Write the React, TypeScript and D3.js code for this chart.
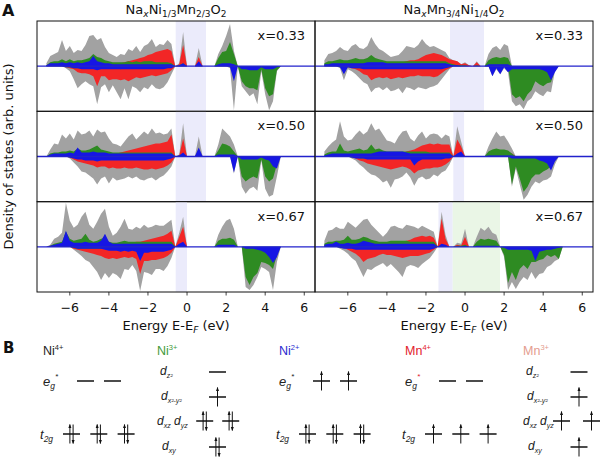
import React from 'react';
import * as d3 from 'd3';

// ---------- DOS data: energy grid -7.2 eV .. 5.0 eV, step 0.2 eV (62 points) ----------
// values in arb. units (panel half-height = 45)
const a33_grayUp = [3, 10,12,14,26,15, 20,13,16,15,21, 30,31,26,28,19, 13,11,9,12,11, 17,15,20,14,20, 22,27,19,22,21, 26,22,0,3,34, 0,0,0,18,0, 0,0,0,12,20, 30,42,15,0,0, 0,0,0,0,0, 0,0,0,0,0, 0];
const a33_redUp = [0, 1,1,1,2,1, 2,1,2,2,2, 2,3,2,2,1, 2,2,3,3,4, 5,6,7,8,9, 11,12,14,15,16, 17,15,0,2,21, 0,0,0,9,0, 0,0,0,1,2, 3,14,2,0,0, 0,0,0,0,0, 0,0,0,0,0, 0];
const a33_greenUp = [1, 4,5,5,7,5, 7,5,6,6,7, 8,12,9,8,6, 5,4,4,4,4, 5,4,5,4,5, 5,5,4,4,4, 4,3,0,1,3, 0,0,0,3,0, 0,0,0,8,14, 15,24,12,0,0, 0,0,0,0,0, 0,0,0,0,0, 0];
const a33_blueUp = [1, 3,3,3,4,3, 4,3,4,3,4, 5,10,5,4,3, 3,2,2,2,2, 2,2,2,2,2, 2,2,2,2,2, 2,2,0,1,3, 0,0,0,5,0, 0,0,0,2,3, 3,3,2,0,0, 0,0,0,0,0, 0,0,0,0,0, 0];
const a33_grayDn = [0, 0,0,0,0,2, 5,13,22,18,15, 18,20,38,21,18, 26,19,26,33,22, 33,20,22,26,21, 23,18,22,23,21, 16,8,0,0,0, 0,0,0,0,0, 0,0,0,0,0, 0,2,44,0,20, 25,30,27,38,5, 28,44,35,5,0, 0];
const a33_redDn = [0, 0,0,0,0,1, 2,3,6,7,7, 8,10,20,10,10, 14,13,13,14,13, 15,13,11,12,11, 10,9,10,9,8, 7,4,0,0,0, 0,0,0,0,0, 0,0,0,0,0, 0,0,0,0,0, 0,0,0,0,0, 0,0,0,0,0, 0];
const a33_greenDn = [0, 0,0,0,0,1, 1,2,2,2,2, 2,2,3,2,2, 2,2,2,3,2, 2,2,2,2,2, 2,2,2,2,2, 2,1,0,0,0, 0,0,0,0,0, 0,0,0,0,0, 0,0,5,0,15, 20,22,22,24,3, 22,30,28,4,0, 0];
const a33_blueDn = [0, 0,0,0,0,1, 1,2,2,3,3, 3,3,4,3,3, 3,3,3,3,3, 3,3,3,3,3, 3,3,3,3,3, 2,2,0,0,0, 0,0,0,0,0, 0,0,0,0,0, 0,1,15,0,3, 3,4,4,4,1, 3,3,3,1,0, 0];

const a50_grayUp = [0, 7,13,12,22,18, 23,17,26,22,23, 26,20,27,24,25, 18,13,12,10,15, 20,23,17,21,25, 22,28,23,24,22, 23,28,0,2,33, 0,0,0,20,0, 0,0,0,12,28, 24,20,12,0,0, 0,0,0,0,0, 0,0,0,0,0, 0];
const a50_redUp = [0, 1,1,1,1,1, 1,1,1,1,1, 1,1,1,1,2, 2,3,3,4,5, 6,7,8,9,10, 11,12,13,13,14, 15,22,0,1,18, 0,0,0,6,0, 0,0,0,1,2, 2,2,1,0,0, 0,0,0,0,0, 0,0,0,0,0, 0];
const a50_greenUp = [0, 3,4,4,5,5, 6,5,8,6,6, 7,9,11,7,6, 5,4,4,4,4, 4,4,4,4,4, 4,4,4,4,4, 4,4,0,1,3, 0,0,0,4,0, 0,0,0,6,13, 12,10,5,0,0, 0,0,0,0,0, 0,0,0,0,0, 0];
const a50_blueUp = [0, 2,3,3,3,3, 4,3,9,4,4, 4,5,4,4,4, 3,3,3,3,3, 3,3,3,3,3, 3,3,3,3,3, 3,3,0,1,4, 0,0,0,9,0, 0,0,0,2,2, 2,2,2,0,0, 0,0,0,0,0, 0,0,0,0,0, 0];
const a50_grayDn = [0, 0,0,0,0,0, 2,6,10,15,16, 19,22,28,22,20, 27,21,24,23,22, 20,22,20,23,24, 22,21,24,21,19, 15,10,0,0,0, 0,0,0,0,0, 0,0,0,0,0, 0,0,17,0,30, 37,32,30,34,4, 32,40,38,20,0, 0];
const a50_redDn = [0, 0,0,0,0,0, 1,3,5,6,7, 8,9,11,10,10, 12,11,12,12,11, 12,12,11,12,13, 13,12,13,12,11, 9,6,0,0,0, 0,0,0,0,0, 0,0,0,0,0, 0,0,0,0,0, 0,0,0,0,0, 0,0,0,0,0, 0];
const a50_greenDn = [0, 0,0,0,0,0, 1,1,2,2,2, 2,2,2,2,2, 2,2,2,2,2, 2,2,2,2,2, 2,2,2,2,2, 2,1,0,0,0, 0,0,0,0,0, 0,0,0,0,0, 0,0,3,0,20, 25,22,20,22,3, 20,25,22,8,0, 0];
const a50_blueDn = [0, 0,0,0,0,0, 1,2,3,3,4, 4,4,5,4,4, 4,4,4,4,4, 4,4,4,4,4, 4,4,4,4,4, 3,2,0,0,0, 0,0,0,0,0, 0,0,0,0,0, 0,0,16,0,3, 3,3,3,3,1, 3,4,10,12,0, 0];

const a67_grayUp = [0, 2,8,10,14,44, 26,19,22,30,35, 22,18,25,33,38, 20,11,14,20,28, 18,17,20,18,22, 19,20,22,21,21, 24,27,0,14,30, 0,0,0,0,0, 0,0,0,12,20, 26,28,18,0,0, 0,0,0,0,0, 0,0,0,0,0, 0];
const a67_redUp = [0, 1,1,1,1,2, 1,1,1,2,2, 1,1,2,2,2, 2,2,2,3,3, 4,4,5,5,6, 7,8,9,10,11, 13,16,0,10,20, 0,0,0,0,0, 0,0,0,1,1, 1,2,2,0,0, 0,0,0,0,0, 0,0,0,0,0, 0];
const a67_greenUp = [0, 1,3,4,5,15, 8,6,7,8,13, 7,5,6,8,9, 5,4,4,5,6, 5,5,5,5,5, 5,5,5,5,5, 5,5,0,1,2, 0,0,0,0,0, 0,0,0,6,8, 8,9,7,0,0, 0,0,0,0,0, 0,0,0,0,0, 0];
const a67_blueUp = [0, 1,2,3,4,16, 6,4,4,4,5, 4,4,4,6,13, 5,3,3,3,3, 3,3,3,3,3, 3,3,3,3,3, 3,3,0,3,5, 0,0,0,0,0, 0,0,0,2,2, 2,2,2,0,0, 0,0,0,0,0, 0,0,0,0,0, 0];
const a67_grayDn = [0, 0,0,0,0,0, 0,3,6,9,13, 15,20,25,33,26, 31,26,28,32,22, 23,18,24,44,25, 26,28,22,22,24, 19,11,0,0,0, 0,0,0,0,0, 0,0,0,0,0, 0,0,0,0,0, 40,43,38,30,20, 22,25,43,15,0, 0];
const a67_redDn = [0, 0,0,0,0,0, 0,2,3,4,5, 6,7,8,9,11, 12,11,12,11,10, 11,10,12,27,14, 14,13,13,12,11, 9,6,0,0,0, 0,0,0,0,0, 0,0,0,0,0, 0,0,0,0,0, 0,0,0,0,0, 0,0,0,0,0, 0];
const a67_greenDn = [0, 0,0,0,0,0, 0,1,2,2,2, 2,2,2,2,2, 2,2,2,2,2, 2,2,2,2,2, 2,2,2,2,2, 2,1,0,0,0, 0,0,0,0,0, 0,0,0,0,0, 0,0,0,0,0, 30,38,30,26,15, 16,18,22,8,0, 0];
const a67_blueDn = [0, 0,0,0,0,0, 0,1,2,2,2, 2,2,2,2,3, 4,4,4,5,4, 5,4,5,14,6, 6,5,5,5,5, 4,3,0,0,0, 0,0,0,0,0, 0,0,0,0,0, 0,0,0,0,0, 2,2,2,3,4, 6,10,16,10,0, 0];

const b33_grayUp = [6, 12,13,15,19,16, 15,20,22,18,17, 20,29,22,17,15, 12,9,10,11,15, 20,19,18,21,27, 22,19,20,18,16, 14,8,6,5,2, 4,1,0,5,0, 0,12,18,20,16, 22,20,0,0,0, 0,0,0,0,0, 0,0,0,0,0, 0];
const b33_redUp = [1, 1,1,1,1,1, 1,1,2,1,1, 2,2,2,2,1, 1,2,2,3,4, 5,6,6,7,9, 11,12,13,12,11, 9,7,6,5,2, 3,1,0,4,0, 0,1,2,2,2, 2,2,0,0,0, 0,0,0,0,0, 0,0,0,0,0, 0];
const b33_greenUp = [3, 5,5,6,7,6, 6,7,8,7,7, 8,11,8,7,6, 5,5,5,5,5, 5,5,5,5,5, 5,5,5,5,5, 5,3,2,1,1, 1,0,0,1,0, 0,6,8,9,8, 9,8,0,0,0, 0,0,0,0,0, 0,0,0,0,0, 0];
const b33_blueUp = [2, 2,3,3,3,3, 3,3,3,3,3, 4,4,4,4,4, 3,3,3,3,3, 3,3,3,3,3, 3,3,3,3,3, 3,2,1,1,0, 0,0,0,0,0, 0,2,2,2,2, 2,2,0,0,0, 0,0,0,0,0, 0,0,0,0,0, 0];
const b33_grayDn = [0, 0,0,0,2,14, 3,5,8,12,16, 18,26,22,21,24, 21,25,24,22,27, 21,22,24,21,22, 23,21,20,18,13, 8,3,0,0,0, 0,0,0,0,0, 0,0,10,3,8, 2,6,35,40,38, 43,35,32,25,28, 30,25,26,5,0, 0];
const b33_redDn = [0, 0,0,0,0,1, 1,2,3,5,8, 9,14,12,11,12, 11,13,12,11,12, 11,10,10,9,10, 10,10,11,10,7, 4,2,0,0,0, 0,0,0,0,0, 0,0,0,0,0, 0,0,0,0,0, 0,0,0,0,0, 0,0,0,0,0, 0];
const b33_greenDn = [0, 0,0,0,1,2, 1,1,2,2,2, 2,2,2,2,2, 2,2,2,2,2, 2,2,2,2,2, 2,2,2,2,2, 1,1,0,0,0, 0,0,0,0,0, 0,0,0,0,0, 0,0,28,32,30, 35,28,24,15,18, 20,17,16,3,0, 0];
const b33_blueDn = [0, 0,0,0,1,8, 1,2,2,2,3, 3,3,3,3,3, 3,3,3,3,3, 3,3,3,3,3, 3,3,3,3,3, 2,1,0,0,0, 0,0,0,0,0, 0,0,10,2,8, 1,6,3,3,3, 3,3,3,3,3, 4,6,14,6,0, 0];

const b50_grayUp = [5, 10,14,17,35,20, 16,17,22,26,22, 25,33,26,28,22, 16,15,13,20,25, 26,18,15,21,25, 18,22,23,22,18, 22,20,0,30,15, 0,0,0,0,0, 0,10,18,25,20, 21,15,8,0,0, 0,0,0,0,0, 0,0,0,0,0, 0];
const b50_redUp = [0, 1,1,1,1,1, 1,1,1,1,1, 1,2,2,2,2, 2,2,2,2,3, 5,6,7,9,11, 12,13,12,13,12, 12,12,0,17,10, 0,0,0,0,0, 0,1,1,1,1, 1,2,3,0,0, 0,0,0,0,0, 0,0,0,0,0, 0];
const b50_greenUp = [2, 4,5,5,13,6, 5,6,7,8,6, 7,12,7,8,6, 5,5,5,5,5, 5,5,5,5,5, 5,4,4,4,4, 4,4,0,2,2, 0,0,0,0,0, 0,5,7,8,7, 7,6,3,0,0, 0,0,0,0,0, 0,0,0,0,0, 0];
const b50_blueUp = [1, 2,3,3,3,3, 3,3,3,3,3, 3,3,4,5,5, 5,5,5,5,5, 4,3,3,3,3, 3,3,3,3,3, 3,3,0,3,5, 0,0,0,0,0, 0,1,1,1,1, 1,1,1,0,0, 0,0,0,0,0, 0,0,0,0,0, 0];
const b50_grayDn = [0, 0,0,0,0,0, 0,2,4,8,11, 15,18,19,22,26, 24,31,23,22,20, 16,21,29,22,20, 23,22,18,20,16, 14,8,0,0,0, 0,0,0,0,0, 0,0,0,0,0, 0,0,30,12,28, 43,38,30,25,27, 24,23,20,8,0, 0];
const b50_redDn = [0, 0,0,0,0,0, 0,0,2,4,5, 7,8,9,10,11, 12,13,12,11,10, 11,13,17,14,13, 12,12,11,11,10, 8,5,0,0,0, 0,0,0,0,0, 0,0,0,0,0, 0,0,0,0,0, 0,0,0,0,0, 0,0,0,0,0, 0];
const b50_greenDn = [0, 0,0,0,0,0, 0,1,1,2,2, 2,2,2,2,2, 2,2,2,2,2, 2,2,2,2,2, 2,2,2,2,2, 1,1,0,0,0, 0,0,0,0,0, 0,0,0,0,0, 0,0,28,10,22, 35,30,22,18,18, 15,13,10,3,0, 0];
const b50_blueDn = [0, 0,0,0,0,0, 0,1,2,2,2, 3,3,3,3,3, 3,3,3,3,3, 3,3,9,5,3, 3,3,3,3,3, 2,2,0,0,0, 0,0,0,0,0, 0,0,0,0,0, 0,0,2,2,2, 2,2,2,2,4, 5,7,14,5,0, 0];

const b67_grayUp = [6, 16,17,20,18,18, 25,22,19,23,27, 28,22,18,14,10, 14,20,21,19,18, 22,21,20,18,21, 19,17,15,0,35, 12,0,0,4,3, 18,0,0,10,19, 16,20,14,12,0, 0,0,0,0,0, 0,0,0,0,0, 0,0,0,0,0, 0];
const b67_redUp = [1, 1,1,1,1,1, 1,1,1,1,2, 2,2,2,2,2, 2,3,4,4,5, 6,7,9,10,11, 10,11,9,0,28, 8,0,0,2,1, 10,0,0,2,3, 3,3,3,3,0, 0,0,0,0,0, 0,0,0,0,0, 0,0,0,0,0, 0];
const b67_greenUp = [3, 5,5,6,6,7, 11,7,7,8,10, 9,7,6,5,5, 5,6,6,6,6, 6,5,5,5,5, 5,5,5,0,2, 1,0,0,1,1, 2,0,0,5,8, 7,8,7,6,0, 0,0,0,0,0, 0,0,0,0,0, 0,0,0,0,0, 0];
const b67_blueUp = [2, 3,3,5,3,3, 4,3,3,4,6, 5,4,3,3,3, 3,3,3,3,3, 3,3,3,3,3, 3,3,3,0,3, 2,0,0,0,0, 1,0,0,1,1, 1,1,1,1,0, 0,0,0,0,0, 0,0,0,0,0, 0,0,0,0,0, 0];
const b67_grayDn = [0, 0,0,0,2,4, 7,11,14,22,30, 22,23,20,18,16, 20,17,21,25,30, 20,18,19,21,17, 14,11,6,0,0, 0,0,0,0,0, 0,0,0,0,0, 0,0,0,0,0, 10,43,35,42,35, 30,33,25,32,27, 26,20,18,14,12, 0];
const b67_redDn = [0, 0,0,0,0,1, 3,5,7,10,15, 12,11,10,8,7, 8,8,9,10,11, 10,9,9,9,8, 7,6,3,0,0, 0,0,0,0,0, 0,0,0,0,0, 0,0,0,0,0, 0,0,0,0,0, 0,0,0,0,0, 0,0,0,0,0, 0];
const b67_greenDn = [0, 0,0,0,1,1, 1,1,2,2,2, 2,2,2,2,2, 2,2,2,2,2, 2,2,2,2,2, 2,2,1,0,0, 0,0,0,0,0, 0,0,0,0,0, 0,0,0,0,0, 8,36,25,33,22, 18,22,15,15,13, 12,8,10,8,12, 0];
const b67_blueDn = [0, 0,0,0,1,2, 2,2,3,3,3, 3,3,3,3,3, 3,3,3,3,3, 3,3,3,3,3, 3,3,2,0,0, 0,0,0,0,0, 0,0,0,0,0, 0,0,0,0,0, 1,3,3,3,3, 3,3,4,14,5, 4,3,3,2,1, 0];

const E_START = -7.2;
const E_STEP = 0.2;

// highlighted energy windows (eV), panel order: a33,a50,a67,b33,b50,b67
const shadeLavender = [[-0.58, 0.97], [-0.58, 0.97], [-0.58, 0.0], [-0.77, 0.97], [-0.6, -0.05], [-1.36, -0.63]];
const shadeGreen = [null, null, null, null, null, [-0.63, 1.79]];

const compositions = ['x=0.33', 'x=0.50', 'x=0.67'];
const xTicks = [-6, -4, -2, 0, 2, 4, 6];

// ---------- panel B data ----------
const ionNames = ['Ni', 'Ni', 'Ni', 'Mn', 'Mn'];
const ionCharges = ['4+', '3+', '2+', '4+', '3+'];
// octahedral ions: eg occupancy, t2g occupancy
const octEg = { 0: [0, 0], 2: [1, 1], 3: [0, 0] } as Record<number, number[]>;
const octT2g = { 0: [2, 2, 2], 2: [2, 2, 2], 3: [1, 1, 1] } as Record<number, number[]>;
// Jahn-Teller split ions: dz2, dx2-y2, dxz/dyz, dxy
const jtZ2 = { 1: [0], 4: [0] } as Record<number, number[]>;
const jtX2Y2 = { 1: [1], 4: [1] } as Record<number, number[]>;
const jtXzYz = { 1: [2, 2], 4: [1, 1] } as Record<number, number[]>;
const jtXy = { 1: [2], 4: [1] } as Record<number, number[]>;

const COL = { gray: '#a2a2a2', red: '#f22626', green: '#2e8b22', blue: '#1616e4' };

function Level({ cx, y, n }: { cx: number; y: number; n: number }) {
  const h = 9.5;
  const up = (x: number) => (
    <g>
      <line x1={x} x2={x} y1={y + h} y2={y - h} stroke="#111" strokeWidth={1} />
      <path d={`M${x - 1.5},${y - h + 3.5} L${x},${y - h - 0.5} L${x + 1.5},${y - h + 3.5} Z`} fill="#111" />
    </g>
  );
  const dn = (x: number) => (
    <g>
      <line x1={x} x2={x} y1={y - h} y2={y + h} stroke="#111" strokeWidth={1} />
      <path d={`M${x - 1.5},${y + h - 3.5} L${x},${y + h + 0.5} L${x + 1.5},${y + h - 3.5} Z`} fill="#111" />
    </g>
  );
  return (
    <g>
      <line x1={cx - 8.5} x2={cx + 8.5} y1={y} y2={y} stroke="#111" strokeWidth={1.5} />
      {n === 1 && up(cx)}
      {n === 2 && up(cx - 1.6)}
      {n === 2 && dn(cx + 1.6)}
    </g>
  );
}

export default function App() {
  const panelSeries = [
    [a33_grayUp, a33_redUp, a33_greenUp, a33_blueUp, a33_grayDn, a33_redDn, a33_greenDn, a33_blueDn],
    [a50_grayUp, a50_redUp, a50_greenUp, a50_blueUp, a50_grayDn, a50_redDn, a50_greenDn, a50_blueDn],
    [a67_grayUp, a67_redUp, a67_greenUp, a67_blueUp, a67_grayDn, a67_redDn, a67_greenDn, a67_blueDn],
    [b33_grayUp, b33_redUp, b33_greenUp, b33_blueUp, b33_grayDn, b33_redDn, b33_greenDn, b33_blueDn],
    [b50_grayUp, b50_redUp, b50_greenUp, b50_blueUp, b50_grayDn, b50_redDn, b50_greenDn, b50_blueDn],
    [b67_grayUp, b67_redUp, b67_greenUp, b67_blueUp, b67_grayDn, b67_redDn, b67_greenDn, b67_blueDn],
  ];
  const colBounds = [[37, 315], [315, 593]];
  const rowBounds = [21, 111.3, 201.7, 292];
  const seriesColors = [COL.gray, COL.red, COL.green, COL.blue];

  const panels = panelSeries.map((series, p) => {
    const col = Math.floor(p / 3);
    const row = p % 3;
    const [x0, x1] = colBounds[col];
    const y0 = rowBounds[row];
    const y1 = rowBounds[row + 1];
    const x = d3.scaleLinear().domain([-7.68, 6.55]).range([x0, x1]);
    const y = d3.scaleLinear().domain([-45, 45]).range([y1, y0]);
    const upArea = d3.area<number>()
      .x((_, i) => x(E_START + i * E_STEP))
      .y0(y(0))
      .y1((d) => y(d));
    const dnArea = d3.area<number>()
      .x((_, i) => x(E_START + i * E_STEP))
      .y0(y(0))
      .y1((d) => y(-d));
    const lav = shadeLavender[p];
    const grn = shadeGreen[p];
    const clipId = `clip${p}`;
    return (
      <g key={p}>
        <clipPath id={clipId}>
          <rect x={x0} y={y0} width={x1 - x0} height={y1 - y0} />
        </clipPath>
        <g clipPath={`url(#${clipId})`}>
          {lav && <rect x={x(lav[0])} y={y0} width={x(lav[1]) - x(lav[0])} height={y1 - y0} fill="#ebebfb" />}
          {grn && <rect x={x(grn[0])} y={y0} width={x(grn[1]) - x(grn[0])} height={y1 - y0} fill="#eaf6e6" />}
          {[0, 1, 2, 3].map((k) => (
            <g key={k}>
              <path d={upArea(series[k]) || ''} fill={seriesColors[k]} />
              <path d={dnArea(series[k + 4]) || ''} fill={seriesColors[k]} />
            </g>
          ))}
          <line x1={x0} x2={x1} y1={y(0)} y2={y(0)} stroke="#2222cc" strokeWidth={1.4} />
        </g>
        <rect x={x0} y={y0} width={x1 - x0} height={y1 - y0} fill="none" stroke="#111" strokeWidth={1} />
        <text x={x1 - 10} y={y0 + 19} textAnchor="end" fontSize={13}>{compositions[row]}</text>
        {row === 2 && xTicks.map((t) => (
          <g key={t}>
            <line x1={x(t)} x2={x(t)} y1={y1} y2={y1 + 3.5} stroke="#111" strokeWidth={0.8} />
            <text x={x(t)} y={y1 + 20} textAnchor="middle" fontSize={12.5}>{t < 0 ? `\u2212${-t}` : `${t}`}</text>
          </g>
        ))}
      </g>
    );
  });

  const leftC = (colBounds[0][0] + colBounds[0][1]) / 2;
  const rightC = (colBounds[1][0] + colBounds[1][1]) / 2;
  const sub = (s: string, italic = false) => (
    <tspan fontSize={9} dy={3} fontStyle={italic ? 'italic' : 'normal'}>{s}</tspan>
  );

  // panel B layout
  const ionX = [43, 157, 279, 405, 523];
  const ionColor = ['#222', '#3f9a3a', '#2a2ad0', '#e2202c', '#e49c8e'];
  const bFont = 'Liberation Sans, Arial, sans-serif';

  const octDiagram = (i: number) => {
    const x0 = ionX[i];
    const eg = octEg[i];
    const t2g = octT2g[i];
    return (
      <g key={`oct${i}`}>
        <text x={x0} y={386} fontSize={13} fontStyle="italic" fontFamily={bFont} fill="#222">
          e<tspan fontSize={8.5} dy={3}>g</tspan><tspan fontSize={8} dy={-10} fill={i === 3 ? '#e2202c' : '#222'}>*</tspan>
        </text>
        {eg.map((n, k) => <Level key={`e${k}`} cx={x0 + 42.5 + 27 * k} y={381} n={n} />)}
        <text x={x0 - 3} y={439} fontSize={13} fontStyle="italic" fontFamily={bFont} fill="#222">
          t<tspan fontSize={8.5} dy={3}>2g</tspan>
        </text>
        {t2g.map((n, k) => <Level key={`t${k}`} cx={x0 + 28.5 + 27.3 * k} y={434} n={n} />)}
      </g>
    );
  };

  const jtDiagram = (i: number, lvlX: number, pairX: number[]) => {
    const x0 = ionX[i];
    return (
      <g key={`jt${i}`} fontFamily={bFont} fill="#222">
        <text x={x0 + 3} y={375} fontSize={12} fontStyle="italic">d<tspan fontSize={7} dy={3}>z²</tspan></text>
        {jtZ2[i].map((n, k) => <Level key={`z${k}`} cx={lvlX} y={372} n={n} />)}
        <text x={x0 + 4} y={400} fontSize={12} fontStyle="italic">d<tspan fontSize={7} dy={3}>x²-y²</tspan></text>
        {jtX2Y2[i].map((n, k) => <Level key={`x${k}`} cx={lvlX} y={397} n={n} />)}
        <text x={x0} y={425} fontSize={12} fontStyle="italic">d<tspan fontSize={7} dy={3}>xz</tspan><tspan dy={-3}> d</tspan><tspan fontSize={7} dy={3}>yz</tspan></text>
        {jtXzYz[i].map((n, k) => <Level key={`xz${k}`} cx={pairX[k]} y={421} n={n} />)}
        <text x={x0 + 5} y={450} fontSize={12} fontStyle="italic">d<tspan fontSize={7} dy={3}>xy</tspan></text>
        {jtXy[i].map((n, k) => <Level key={`xy${k}`} cx={lvlX} y={447} n={n} />)}
      </g>
    );
  };

  return (
    <svg width={601} height={459} style={{ position: 'absolute', left: 0, top: 0, background: '#fff' }}
      fontFamily="DejaVu Sans, sans-serif" fill="#111">
      <rect x={0} y={0} width={601} height={459} fill="#fff" />
      <text x={2} y={15.5} fontSize={16} fontWeight="bold">A</text>
      <text x={leftC} y={13.5} textAnchor="middle" fontSize={13}>
        Na{sub('x', true)}<tspan dy={-3}>Ni</tspan>{sub('1/3')}<tspan dy={-3}>Mn</tspan>{sub('2/3')}<tspan dy={-3}>O</tspan>{sub('2')}
      </text>
      <text x={rightC} y={13.5} textAnchor="middle" fontSize={13}>
        Na{sub('x', true)}<tspan dy={-3}>Mn</tspan>{sub('3/4')}<tspan dy={-3}>Ni</tspan>{sub('1/4')}<tspan dy={-3}>O</tspan>{sub('2')}
      </text>
      <text transform="translate(13,156.5) rotate(-90)" textAnchor="middle" fontSize={13}>Density of states (arb. units)</text>
      {panels}
      <text x={leftC} y={330} textAnchor="middle" fontSize={13}>
        Energy E-E<tspan fontSize={9} dy={3} fontStyle="italic">F</tspan><tspan dy={-3}> (eV)</tspan>
      </text>
      <text x={rightC} y={330} textAnchor="middle" fontSize={13}>
        Energy E-E<tspan fontSize={9} dy={3} fontStyle="italic">F</tspan><tspan dy={-3}> (eV)</tspan>
      </text>

      <text x={3} y={353} fontSize={15} fontWeight="bold">B</text>
      {ionNames.map((nm, i) => (
        <text key={`ion${i}`} x={ionX[i]} y={355} fontSize={12.5} fontFamily={bFont} fill={ionColor[i]}>
          {nm}<tspan fontSize={7.5} dy={-5}>{ionCharges[i]}</tspan>
        </text>
      ))}
      {octDiagram(0)}
      {jtDiagram(1, 217.5, [204.7, 230.7])}
      {octDiagram(2)}
      {octDiagram(3)}
      {jtDiagram(4, 579, [561.5, 591.5])}
    </svg>
  );
}
